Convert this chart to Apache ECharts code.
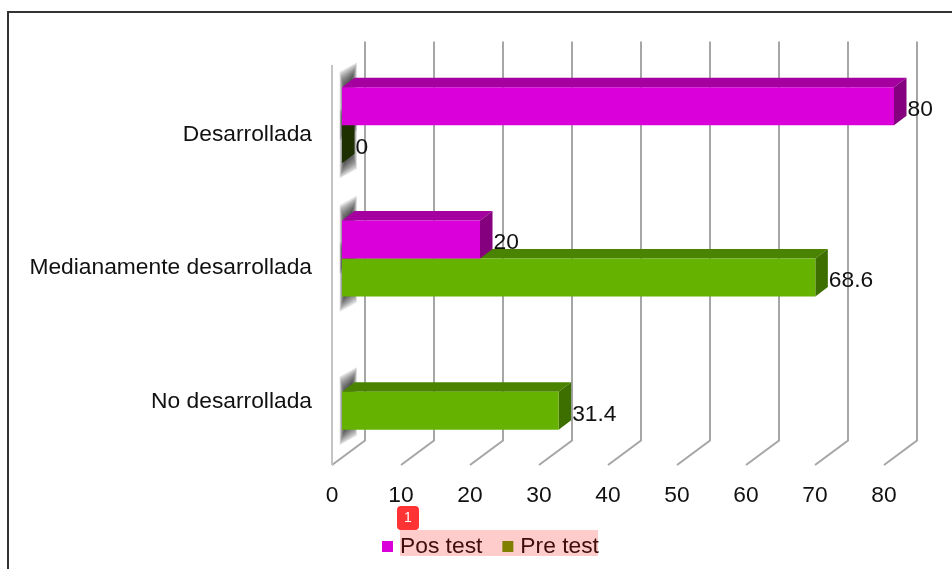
<!DOCTYPE html>
<html><head><meta charset="utf-8">
<style>html,body{margin:0;padding:0;background:#fff}#c{width:952px;height:569px}</style>
<script src="https://cdn.jsdelivr.net/npm/echarts@6/dist/echarts.min.js"></script>
</head><body><div id="c"></div>
<script>
var categories = ['Desarrollada', 'Medianamente desarrollada', 'No desarrollada'];
var posTest = [80, 20, null];
var preTest = [0, 68.6, 31.4];
var xTicks = [0, 10, 20, 30, 40, 50, 60, 70, 80];

var FONT = '"Liberation Sans", Arial, sans-serif', FS = 22.8;
var DX = 12.5, DY = 9.5, OX = 10, OY = -6.5, WX = 33, WY = -24.5;
var pos = {front:'#d900d9', top:'#a5009f', side:'#85007f', zero:'#3a0038'};
var pre = {front:'#66b200', top:'#4a8300', side:'#3d6e00', zero:'#1e3000'};

function poly(pts, fill){
  return {type:'polygon', shape:{points:pts}, style:{fill:fill}};
}
function barBox(api, dir){
  var v = api.value(0), cat = api.value(1);
  var p0 = api.coord([0, cat]), p1 = api.coord([v, cat]);
  var h = api.size([0, 1])[1] * 0.285;
  var cy = p0[1] + OY;
  var top = dir < 0 ? cy - h : cy, bottom = dir < 0 ? cy : cy + h;
  return {v:v, x0:p0[0] + OX, x1:p1[0] + OX, top:top, bottom:bottom};
}
function renderBar(colors, dir){
  return function(params, api){
    var b = barBox(api, dir), kids = [];
    if (b.v === 0) {
      kids.push(poly([[b.x0,b.top],[b.x0+DX,b.top-DY],[b.x0+DX,b.bottom-DY],[b.x0,b.bottom]], colors.zero));
    } else {
      kids.push(poly([[b.x0,b.top],[b.x0+DX,b.top-DY],[b.x1+DX,b.top-DY],[b.x1,b.top]], colors.top));
      kids.push(poly([[b.x1,b.top],[b.x1+DX,b.top-DY],[b.x1+DX,b.bottom-DY],[b.x1,b.bottom]], colors.side));
      kids.push({type:'rect', shape:{x:b.x0, y:b.top, width:b.x1-b.x0, height:b.bottom-b.top}, style:{fill:colors.front}});
    }
    kids.push({type:'text', z2:50, style:{text:String(b.v), x:b.x1+DX+1, y:(b.top+b.bottom)/2+3.5,
      fill:'#111', font:FS+'px '+FONT, align:'left', verticalAlign:'middle'}});
    return {type:'group', children:kids};
  };
}
function renderShadow(dir){
  return function(params, api){
    var b = barBox(api, dir), kids = [];
    for (var i = 0; i < 9; i++) {
      var ex = -2.5 + i * 0.6, ey = i * 1.9;
      kids.push(poly([
        [b.x0-ex, b.top-ey], [b.x0+DX+ex, b.top-DY-ey],
        [b.x0+DX+ex, b.bottom-DY+ey], [b.x0-ex, b.bottom+ey]
      ], 'rgba(35,35,35,0.15)'));
    }
    return {type:'group', children:kids};
  };
}
function rows(arr){
  return arr.map(function(v,i){ return v === null ? null : [v,i]; }).filter(Boolean);
}
function renderWall(params, api){
  var v = api.value(0), half = api.size([0, 1])[1] / 2;
  var a = api.coord([v, categories.length - 1]), b = api.coord([v, 0]);
  var yBottom = a[1] + half, yTop = b[1] - half;
  var st = {stroke:'#a6a6a6', lineWidth:2, fill:null};
  var kids = [
    {type:'polyline', shape:{points:[[a[0],yBottom],[a[0]+WX,yBottom+WY],[a[0]+WX,yTop+WY+1]]}, style:st}
  ];
  if (v === 0) kids.push({type:'line', shape:{x1:a[0],y1:yBottom,x2:a[0],y2:yTop}, style:{stroke:'#c4c4c4',lineWidth:2}});
  return {type:'group', children:kids};
}

var chart = echarts.init(document.getElementById('c'), null, {renderer:'canvas'});
chart.setOption({
  animation:false,
  backgroundColor:'#fff',
  textStyle:{fontFamily:FONT},
  grid:{left:332, top:65, width:552, height:400},
  xAxis:{type:'value', min:0, max:80, interval:10,
    axisLine:{show:false}, axisTick:{show:false}, splitLine:{show:false},
    axisLabel:{color:'#111', fontSize:FS, fontFamily:FONT, margin:19}},
  yAxis:{type:'category', inverse:true, data:categories,
    axisLine:{show:false}, axisTick:{show:false}, splitLine:{show:false},
    axisLabel:{color:'#111', fontSize:FS, fontFamily:FONT, margin:20, verticalAlign:'top', lineHeight:6}},
  legend:{left:377, top:530, icon:'rect', itemWidth:11, itemHeight:11, itemGap:20,
    data:['Pos test','Pre test'], selectedMode:false,
    textStyle:{color:'#111', fontSize:FS, fontFamily:FONT, padding:[0,0,0,2]}},
  series:[
    {type:'custom', name:'wall', silent:true, z:1, renderItem:renderWall, data:xTicks.map(function(t){return [t];}), encode:{x:0}, clip:false},
    {type:'custom', name:'s1', silent:true, z:2, renderItem:renderShadow(1), data:rows(preTest), encode:{x:0,y:1}, clip:false},
    {type:'custom', name:'s2', silent:true, z:2, renderItem:renderShadow(-1), data:rows(posTest), encode:{x:0,y:1}, clip:false},
    {type:'custom', name:'Pre test', z:3, itemStyle:{color:'#60a000'}, renderItem:renderBar(pre,1), data:rows(preTest), encode:{x:0,y:1}, clip:false},
    {type:'custom', name:'Pos test', z:4, itemStyle:{color:'#d900d9'}, renderItem:renderBar(pos,-1), data:rows(posTest), encode:{x:0,y:1}, clip:false}
  ],
  graphic:[
    {type:'polyline', z:100, shape:{points:[[8,569],[8,12],[952,12]]}, style:{stroke:'#333', lineWidth:2, fill:null}},
    {type:'rect', z:100, shape:{x:400,y:530,width:198,height:26}, style:{fill:'rgba(255,0,0,0.2)'}},
    {type:'rect', z:101, shape:{x:397,y:506,width:22,height:24,r:4}, style:{fill:'#ff3333'}},
    {type:'text', z:102, style:{text:'1', x:408, y:518, fill:'#fff', font:'14px "Liberation Sans"', align:'center', verticalAlign:'middle'}}
  ]
});
</script></body></html>
